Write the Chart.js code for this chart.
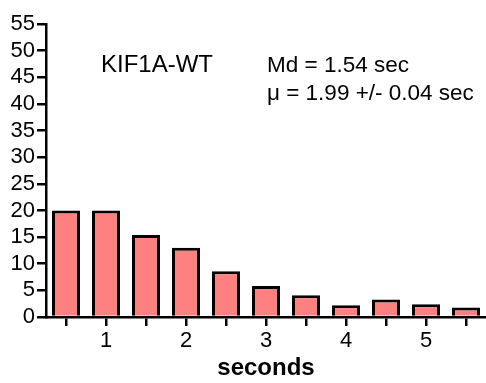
<!DOCTYPE html>
<html>
<head>
<meta charset="utf-8">
<script src="https://cdn.jsdelivr.net/npm/chart.js@4.4.1/dist/chart.umd.min.js"></script>
<style>
html,body{margin:0;padding:0;background:#fff;}
#wrap{width:486px;height:383px;position:relative;}
</style>
</head>
<body>
<div id="wrap"><canvas id="c" width="486" height="383"></canvas></div>
<script>
// Bin centers (seconds)
const binCenters = ['0.5','1','1.5','2','2.5','3','3.5','4','4.5','5','5.5'];
// Percent of events per bin
const counts = [20, 20, 15.4, 13, 8.6, 5.8, 4.1, 2.2, 3.3, 2.4, 1.8];
// Tick labels shown on the x axis
const xTickLabels = ['1','2','3','4','5'];
const yMin = 0, yMax = 55, yStep = 5;
const titleText = 'KIF1A-WT';
const statLines = ['Md = 1.54 sec', 'μ = 1.99 +/- 0.04 sec'];
const xAxisTitle = 'seconds';

const FONT = "'Liberation Sans', Arial, Helvetica, sans-serif";

const textPlugin = {
  id: 'annot',
  afterDraw(chart) {
    const ctx = chart.ctx;
    ctx.save();
    ctx.fillStyle = '#000';
    ctx.textBaseline = 'middle';
    ctx.font = '24px ' + FONT;
    ctx.textAlign = 'center';
    ctx.fillText(titleText, 157, 65);
    ctx.font = '22.5px ' + FONT;
    ctx.textAlign = 'left';
    ctx.fillText(statLines[0], 267, 66);
    ctx.fillText(statLines[1], 267, 94);
    ctx.restore();
  }
};

new Chart(document.getElementById('c'), {
  type: 'bar',
  data: {
    labels: binCenters,
    datasets: [{
      data: counts,
      backgroundColor: '#FF8080',
      borderColor: '#000',
      borderWidth: 3,
      barPercentage: 0.7,
      categoryPercentage: 1.0
    }]
  },
  options: {
    responsive: false,
    animation: false,
    devicePixelRatio: 1,
    layout: { padding: { top: 24, right: 0, left: 0, bottom: 0 } },
    plugins: { legend: { display: false }, tooltip: { enabled: false } },
    scales: {
      x: {
        type: 'category',
        offset: true,
        grid: { offset: false, drawOnChartArea: false, tickLength: 9, lineWidth: 2.5, color: '#000' },
        border: { color: '#000', width: 2.5 },
        ticks: {
          autoSkip: false, maxRotation: 0, padding: 2, color: '#000',
          font: { family: FONT, size: 22 },
          callback: function(v, i) {
            const lbl = binCenters[i];
            return xTickLabels.includes(lbl) ? lbl : '';
          }
        },
        title: { display: true, text: xAxisTitle, color: '#000', font: { family: FONT, size: 24, weight: 'bold' }, padding: { top: 0, bottom: 0 } },
        afterFit(s) { s.height = 66; }
      },
      y: {
        min: yMin, max: yMax,
        grid: { drawOnChartArea: false, tickLength: 9, lineWidth: 2.5, color: '#000' },
        border: { color: '#000', width: 2.5 },
        ticks: { stepSize: yStep, autoSkip: false, padding: 2, color: '#000', font: { family: FONT, size: 22 } },
        afterFit(s) { s.width = 46; }
      }
    }
  },
  plugins: [textPlugin]
});
</script>
</body>
</html>
